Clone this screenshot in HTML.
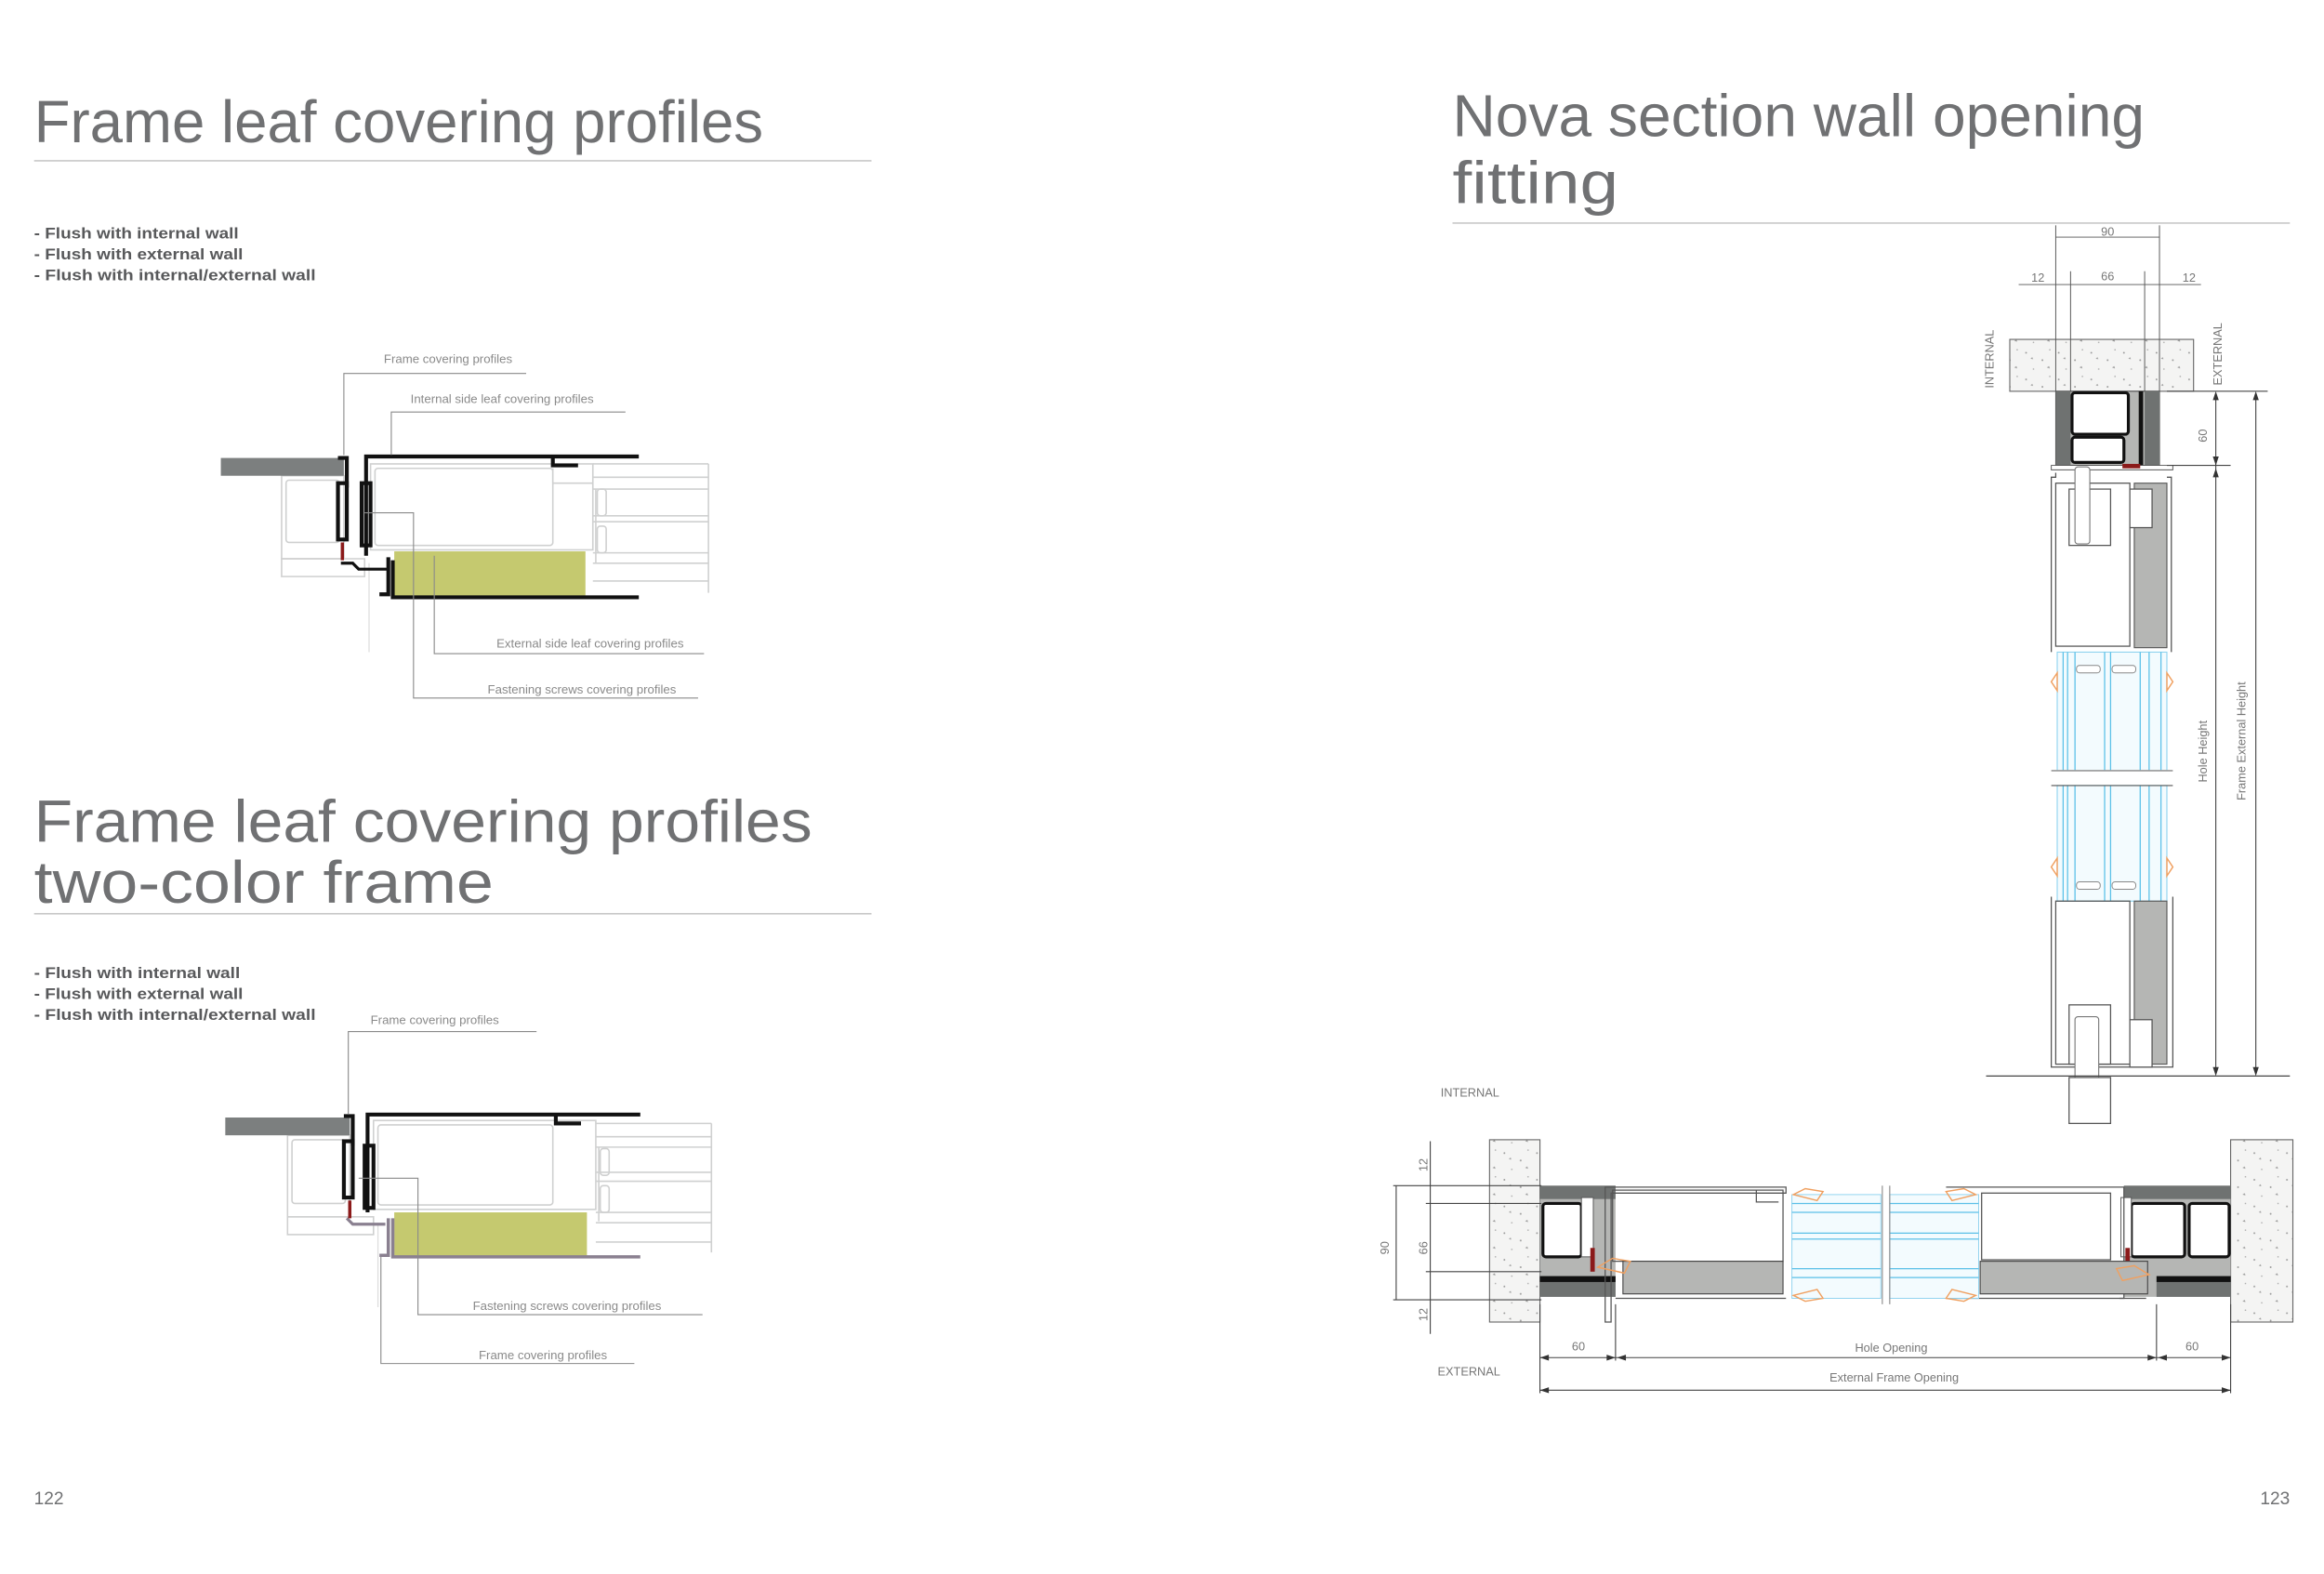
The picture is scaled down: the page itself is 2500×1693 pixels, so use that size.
<!DOCTYPE html>
<html><head><meta charset="utf-8"><style>
html,body{margin:0;padding:0;background:#fff}
svg{display:block}
text{font-family:"Liberation Sans",sans-serif}
.t{fill:#707173;font-size:40px}
.b{fill:#58595b;font-size:10.5px;font-weight:bold}
.l{fill:#8a8a8a;font-size:8.3px}
.d{fill:#777;font-size:8px}
.g{stroke:#cfd0d0;fill:none;stroke-width:1}
.k{stroke:#111;fill:none;stroke-width:2.6}
.ld{stroke:#8a8a8a;fill:none;stroke-width:.7}
.o{stroke:#555;fill:none;stroke-width:.8}
.bl{stroke:#5bc0e8;stroke-width:.8}
</style></head><body>
<svg width="2500" height="1693" viewBox="0 0 1568 1062" preserveAspectRatio="none" xmlns="http://www.w3.org/2000/svg">
<defs>
<pattern id="conc" width="22" height="18" patternUnits="userSpaceOnUse">
<rect width="22" height="18" fill="#f4f4f3"/>
<circle cx="3" cy="4" r=".6" fill="#999"/><circle cx="14" cy="9" r=".6" fill="#999"/><circle cx="8" cy="15" r=".5" fill="#aaa"/><circle cx="19" cy="2" r=".5" fill="#aaa"/><path d="M17 14l1.5 -1 .5 1.6z" fill="#999"/><path d="M6 8l1.2 -1 .5 1.4z" fill="#999"/>
</pattern>
</defs>
<rect width="1568" height="1062" fill="#fff"/>

<!-- LEFT PAGE -->
<text class="t" x="23" y="96" textLength="492" lengthAdjust="spacingAndGlyphs">Frame leaf covering profiles</text>
<line x1="23" y1="108.5" x2="588" y2="108.5" stroke="#c8c8c8" stroke-width="1"/>
<text class="b" x="23" y="161" textLength="138" lengthAdjust="spacingAndGlyphs">- Flush with internal wall</text>
<text class="b" x="23" y="175" textLength="141" lengthAdjust="spacingAndGlyphs">- Flush with external wall</text>
<text class="b" x="23" y="189" textLength="190" lengthAdjust="spacingAndGlyphs">- Flush with internal/external wall</text>

<!-- Diagram 1 -->
<g>
<rect x="190" y="321" width="42" height="56" class="g"/>
<rect x="193" y="324" width="36" height="42" rx="2" class="g"/>
<path d="M190 377h56v12h-56z" class="g"/>
<rect x="250" y="313" width="150" height="58" class="g"/>
<rect x="253" y="316" width="120" height="52" rx="2" class="g"/>
<path d="M373 316v10h27" class="g"/>
<g class="g"><path d="M400 313h78M400 322h78M400 330h78M400 348h78M400 352h78M400 373h78M400 380h78M400 392h78M478 313v87M402 330v50"/><rect x="403" y="330" width="6" height="18" rx="2"/><rect x="403" y="355" width="6" height="18" rx="2"/></g>
<line x1="249" y1="380" x2="249" y2="440" stroke="#ddd" stroke-width=".8"/>
<rect x="149" y="309" width="83" height="12" fill="#7c7f7f"/>
<rect x="266" y="372" width="129" height="30" fill="#c5c96f"/>
<path class="k" d="M228 309h6v20"/>
<rect x="228" y="326" width="6" height="38" class="k" stroke-width="2"/>
<path class="k" d="M247 375v-67h184M265 378v25h166M262 376v25h-6" />
<rect x="244" y="326" width="6" height="42" class="k" stroke-width="2"/>
<path class="k" d="M373 309v5h17" stroke-width="2"/>
<path d="M231 366v12" stroke="#8b1a1a" stroke-width="2.2"/>
<path d="M230 380h8l4 4h20" stroke="#111" stroke-width="2" fill="none"/>
<path class="ld" d="M232 307V252h123"/>
<path class="ld" d="M264 307V278h158"/>
<path class="ld" d="M293 375v66h182"/>
<path class="ld" d="M246 346h33v125h192"/>
<text class="l" x="259" y="245">Frame covering profiles</text>
<text class="l" x="277" y="272">Internal side leaf covering profiles</text>
<text class="l" x="335" y="437">External side leaf covering profiles</text>
<text class="l" x="329" y="468">Fastening screws covering profiles</text>
</g>

<text class="t" x="23" y="568" textLength="525" lengthAdjust="spacingAndGlyphs">Frame leaf covering profiles</text>
<text class="t" x="23" y="609" textLength="310" lengthAdjust="spacingAndGlyphs">two-color frame</text>
<line x1="23" y1="616.5" x2="588" y2="616.5" stroke="#c8c8c8" stroke-width="1"/>
<text class="b" x="23" y="660" textLength="139" lengthAdjust="spacingAndGlyphs">- Flush with internal wall</text>
<text class="b" x="23" y="674" textLength="141" lengthAdjust="spacingAndGlyphs">- Flush with external wall</text>
<text class="b" x="23" y="688" textLength="190" lengthAdjust="spacingAndGlyphs">- Flush with internal/external wall</text>

<!-- Diagram 2 -->
<g>
<rect x="194" y="766" width="42" height="55" class="g"/>
<rect x="197" y="769" width="36" height="43" rx="2" class="g"/>
<path d="M194 821h58v12h-58z" class="g"/>
<rect x="252" y="756" width="150" height="60" class="g"/>
<rect x="255" y="759" width="118" height="54" rx="2" class="g"/>
<g class="g"><path d="M402 758h78M402 767h78M402 774h78M402 791h78M402 797h78M402 818h78M402 825h78M402 838h78M480 758v87M404 774v50"/><rect x="405" y="775" width="6" height="18" rx="2"/><rect x="405" y="800" width="6" height="18" rx="2"/></g>
<line x1="255" y1="825" x2="255" y2="882" stroke="#ddd" stroke-width=".8"/>
<rect x="152" y="754" width="84" height="12" fill="#7c7f7f"/>
<rect x="266" y="818" width="130" height="30" fill="#c5c96f"/>
<path class="k" d="M232 753h6v20"/>
<rect x="232" y="770" width="6" height="38" class="k" stroke-width="2"/>
<path class="k" d="M248 818v-66h184"/>
<rect x="246" y="773" width="6" height="42" class="k" stroke-width="2"/>
<path class="k" d="M375 753v5h17" stroke-width="2"/>
<path d="M265 822v26h167M262 822v25h-6" stroke="#8a8090" stroke-width="2.2" fill="none"/>
<path d="M234 822l4 4h22" stroke="#8a8090" stroke-width="2" fill="none"/>
<path d="M236 810v12" stroke="#8b1a1a" stroke-width="2.2"/>
<path class="ld" d="M235 752V696h127"/>
<path class="ld" d="M242 795h40v92h192"/>
<path class="ld" d="M257 848v72h171"/>
<text class="l" x="250" y="691">Frame covering profiles</text>
<text class="l" x="319" y="884">Fastening screws covering profiles</text>
<text class="l" x="323" y="917">Frame covering profiles</text>
</g>

<text x="23" y="1015" fill="#707173" font-size="12">122</text>

<!-- RIGHT PAGE -->
<text class="t" x="980" y="92" textLength="467" lengthAdjust="spacingAndGlyphs">Nova section wall opening</text>
<text class="t" x="980" y="137" textLength="112" lengthAdjust="spacingAndGlyphs">fitting</text>
<line x1="980" y1="150.5" x2="1545" y2="150.5" stroke="#c8c8c8" stroke-width="1"/>

<!-- vertical section -->
<g>
<rect x="1356" y="229" width="124" height="35" fill="url(#conc)" stroke="#666" stroke-width=".7"/>
<g stroke="#555" stroke-width=".6">
<line x1="1387" y1="152" x2="1387" y2="264"/><line x1="1457" y1="152" x2="1457" y2="264"/>
<line x1="1397" y1="183" x2="1397" y2="264"/><line x1="1447" y1="183" x2="1447" y2="264"/>
<line x1="1387" y1="160" x2="1457" y2="160"/>
<line x1="1362" y1="192" x2="1485" y2="192"/>
</g>
<text class="d" x="1422" y="159" text-anchor="middle">90</text>
<text class="d" x="1422" y="189" text-anchor="middle">66</text>
<text class="d" x="1375" y="190" text-anchor="middle">12</text>
<text class="d" x="1477" y="190" text-anchor="middle">12</text>
<text class="d" transform="translate(1345,262) rotate(-90)">INTERNAL</text>
<text class="d" transform="translate(1499,260) rotate(-90)">EXTERNAL</text>
<rect x="1387" y="264" width="70" height="50" fill="#b5b6b4" stroke="#444" stroke-width=".6"/>
<rect x="1387" y="264" width="10" height="50" fill="#6f7271"/>
<rect x="1447" y="264" width="10" height="50" fill="#6f7271"/>
<rect x="1443" y="264" width="3" height="50" fill="#111"/>
<rect x="1398" y="265" width="38" height="28" rx="2" fill="#fff" stroke="#111" stroke-width="2"/>
<rect x="1398" y="295" width="35" height="17" rx="2" fill="#fff" stroke="#111" stroke-width="2"/>
<path d="M1384 314h82v3h-82z" fill="#fff" stroke="#555" stroke-width=".6"/>
<rect x="1432" y="313" width="12" height="3" fill="#8b1a1a"/>
<!-- upper leaf -->
<path class="o" d="M1384 440V322h3v-3M1465 440V322h-3"/>
<rect x="1387" y="326" width="50" height="110" class="o"/>
<rect x="1440" y="326" width="22" height="111" fill="#b5b6b4" stroke="#555" stroke-width=".7"/>
<rect x="1396" y="330" width="28" height="38" fill="#fff" class="o"/>
<rect x="1400" y="315" width="10" height="52" rx="2" fill="#fff" stroke="#777" stroke-width=".7"/>
<rect x="1437" y="330" width="15" height="26" fill="#fff" stroke="#555" stroke-width=".8"/>
<!-- glass -->
<g>
<rect x="1388" y="440" width="74" height="80" fill="#f3fbfe" stroke="#8fd3ef" stroke-width=".7"/>
<rect x="1388" y="530" width="74" height="78" fill="#f3fbfe" stroke="#8fd3ef" stroke-width=".7"/>
<g class="bl"><path d="M1392 440v80M1395 440v80M1400 440v80M1420 440v80M1424 440v80M1444 440v80M1450 440v80M1458 440v80M1392 530v78M1395 530v78M1400 530v78M1420 530v78M1424 530v78M1444 530v78M1450 530v78M1458 530v78"/></g>
<line x1="1384" y1="520" x2="1466" y2="520" stroke="#999"/>
<line x1="1384" y1="530" x2="1466" y2="530" stroke="#555" stroke-width=".7"/>
<rect x="1401" y="449" width="16" height="5" rx="2" fill="#fff" stroke="#888" stroke-width=".6"/>
<rect x="1425" y="449" width="16" height="5" rx="2" fill="#fff" stroke="#888" stroke-width=".6"/>
<rect x="1401" y="595" width="16" height="5" rx="2" fill="#fff" stroke="#888" stroke-width=".6"/>
<rect x="1425" y="595" width="16" height="5" rx="2" fill="#fff" stroke="#888" stroke-width=".6"/>
<g fill="none" stroke="#f0a060" stroke-width=".9"><path d="M1384 460l4-6v12zM1466 460l-4-6v12zM1384 585l4-6v12zM1466 585l-4-6v12z"/></g>
</g>
<!-- lower leaf -->
<path class="o" d="M1384 605v115h82V605"/>
<rect x="1387" y="608" width="50" height="110" class="o"/>
<rect x="1440" y="608" width="22" height="110" fill="#b5b6b4" stroke="#555" stroke-width=".7"/>
<rect x="1396" y="678" width="28" height="40" fill="#fff" class="o"/>
<rect x="1400" y="686" width="16" height="45" rx="2" fill="#fff" stroke="#777" stroke-width=".7"/>
<rect x="1437" y="688" width="15" height="32" fill="#fff" stroke="#555" stroke-width=".8"/>
<line x1="1340" y1="726" x2="1545" y2="726" stroke="#444" stroke-width=".8"/>
<rect x="1396" y="727" width="28" height="31" fill="#fff" stroke="#555" stroke-width=".8"/>
<!-- dims -->
<g stroke="#444" stroke-width=".7">
<line x1="1462" y1="264" x2="1530" y2="264"/>
<line x1="1462" y1="314" x2="1505" y2="314"/>
<line x1="1495" y1="266" x2="1495" y2="724"/>
<line x1="1522" y1="266" x2="1522" y2="724"/>
</g>
<g fill="#333"><path d="M1495 264l-2 6h4zM1495 314l-2-6h4zM1495 316l-2 6h4zM1495 726l-2-6h4zM1522 264l-2 6h4zM1522 726l-2-6h4z"/></g>
<text class="d" transform="translate(1489,294) rotate(-90)" text-anchor="middle">60</text>
<text class="d" transform="translate(1489,507) rotate(-90)" text-anchor="middle">Hole Height</text>
<text class="d" transform="translate(1515,500) rotate(-90)" text-anchor="middle">Frame External Height</text>
</g>

<!-- horizontal section -->
<g>
<text class="d" x="972" y="740">INTERNAL</text>
<text class="d" x="970" y="928">EXTERNAL</text>
<rect x="1005" y="769" width="34" height="123" fill="url(#conc)" stroke="#666" stroke-width=".7"/>
<rect x="1505" y="769" width="42" height="123" fill="url(#conc)" stroke="#666" stroke-width=".7"/>
<!-- left frame -->
<rect x="1039" y="800" width="51" height="75" fill="#b5b6b4"/>
<rect x="1039" y="800" width="51" height="9" fill="#6f7271"/>
<rect x="1039" y="865" width="51" height="10" fill="#6f7271"/>
<rect x="1039" y="861" width="51" height="4" fill="#111"/>
<rect x="1041" y="812" width="26" height="36" rx="2" fill="#fff" stroke="#111" stroke-width="2"/>
<rect x="1067" y="808" width="8" height="40" fill="#fff" stroke="#555" stroke-width=".6"/>
<rect x="1073" y="842" width="3" height="16" fill="#8b1a1a"/>
<!-- right frame -->
<rect x="1433" y="800" width="72" height="75" fill="#b5b6b4"/>
<rect x="1433" y="800" width="72" height="9" fill="#6f7271"/>
<rect x="1455" y="865" width="50" height="10" fill="#6f7271"/>
<rect x="1455" y="861" width="50" height="4" fill="#111"/>
<rect x="1438" y="812" width="36" height="36" rx="2" fill="#fff" stroke="#111" stroke-width="2"/>
<rect x="1477" y="812" width="27" height="36" rx="2" fill="#fff" stroke="#111" stroke-width="2"/>
<rect x="1431" y="808" width="7" height="40" fill="#fff" stroke="#555" stroke-width=".6"/>
<rect x="1434" y="842" width="3" height="16" fill="#8b1a1a"/>
<!-- left leaf -->
<path class="o" d="M1083 801h122v4h-118v87h-4z" fill="#fff"/>
<rect x="1088" y="803" width="115" height="48" fill="#fff" class="o"/>
<rect x="1095" y="851" width="108" height="22" fill="#b5b6b4" stroke="#444" stroke-width=".7"/>
<path class="o" d="M1090 876h115"/>
<path class="o" d="M1185 803v8h15"/>
<!-- right leaf -->
<path class="o" d="M1313 801h120v75h-3" fill="none"/>
<rect x="1337" y="805" width="87" height="45" fill="#fff" class="o"/>
<rect x="1336" y="851" width="113" height="22" fill="#b5b6b4" stroke="#444" stroke-width=".7"/>
<path class="o" d="M1313 876h135"/>
<!-- glass -->
<rect x="1209" y="806" width="60" height="70" fill="#f3fbfe" stroke="#8fd3ef" stroke-width=".6"/>
<rect x="1275" y="806" width="60" height="70" fill="#f3fbfe" stroke="#8fd3ef" stroke-width=".6"/>
<g class="bl"><path d="M1209 812h60M1209 818h60M1209 832h60M1209 836h60M1209 856h60M1209 862h60M1275 812h60M1275 818h60M1275 832h60M1275 836h60M1275 856h60M1275 862h60"/></g>
<line x1="1270" y1="800" x2="1270" y2="880" stroke="#888" stroke-width=".7"/>
<line x1="1275" y1="800" x2="1275" y2="880" stroke="#888" stroke-width=".7"/>
<g fill="none" stroke="#f0a060" stroke-width=".9"><path d="M1210 806l8-4 12 2-4 6zM1210 874l8 4 12-2-4-6zM1333 806l-8-4-12 2 4 6zM1333 874l-8 4-12-2 4-6zM1078 855l10-6 12 2-4 8zM1450 860l-10-6-12 2 4 8z"/></g>
<!-- dims -->
<g stroke="#444" stroke-width=".7">
<line x1="940" y1="800" x2="1040" y2="800"/>
<line x1="962" y1="812" x2="1040" y2="812"/>
<line x1="962" y1="858" x2="1040" y2="858"/>
<line x1="940" y1="877" x2="1040" y2="877"/>
<line x1="942" y1="800" x2="942" y2="877"/>
<line x1="965" y1="770" x2="965" y2="900"/>
<line x1="1039" y1="880" x2="1039" y2="940"/>
<line x1="1505" y1="880" x2="1505" y2="940"/>
<line x1="1090" y1="880" x2="1090" y2="918"/>
<line x1="1455" y1="880" x2="1455" y2="918"/>
<line x1="1039" y1="916" x2="1505" y2="916"/>
<line x1="1039" y1="938" x2="1505" y2="938"/>
</g>
<g fill="#333"><path d="M1039 916l6-2v4zM1090 916l-6-2v4zM1091 916l6-2v4zM1455 916l-6-2v4zM1456 916l6-2v4zM1505 916l-6-2v4zM1039 938l6-2v4zM1505 938l-6-2v4z"/></g>
<text class="d" transform="translate(963,786) rotate(-90)" text-anchor="middle">12</text>
<text class="d" transform="translate(963,842) rotate(-90)" text-anchor="middle">66</text>
<text class="d" transform="translate(963,887) rotate(-90)" text-anchor="middle">12</text>
<text class="d" transform="translate(937,842) rotate(-90)" text-anchor="middle">90</text>
<text class="d" x="1065" y="911" text-anchor="middle">60</text>
<text class="d" x="1276" y="912" text-anchor="middle">Hole Opening</text>
<text class="d" x="1479" y="911" text-anchor="middle">60</text>
<text class="d" x="1278" y="932" text-anchor="middle">External Frame Opening</text>
</g>

<text x="1545" y="1015" fill="#707173" font-size="12" text-anchor="end">123</text>
</svg>
</body></html>
